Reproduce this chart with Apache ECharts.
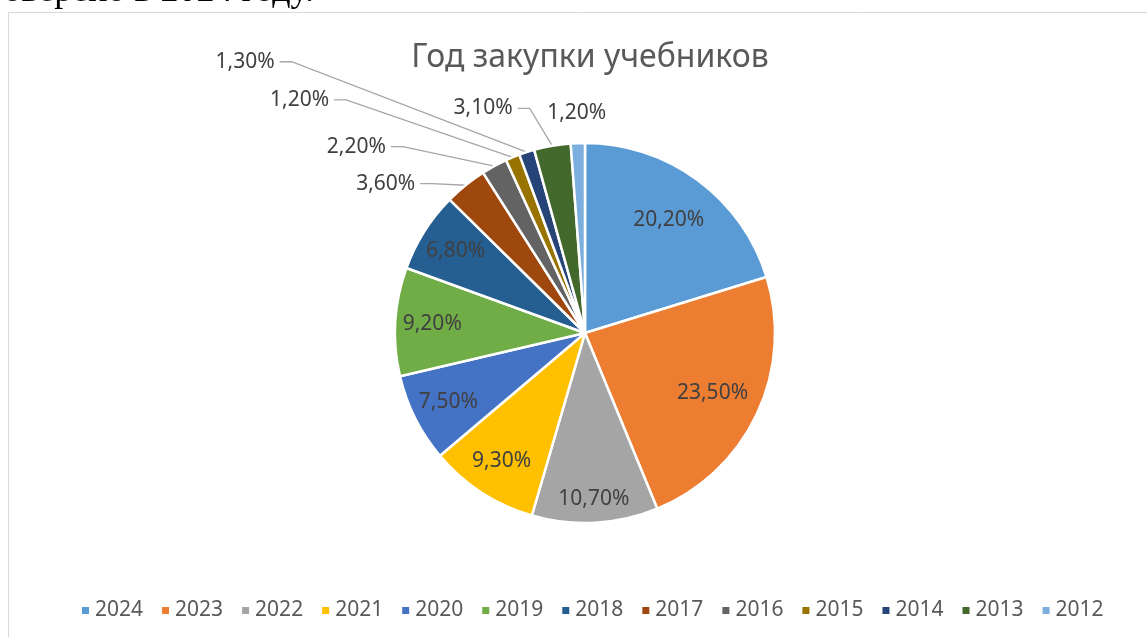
<!DOCTYPE html>
<html>
<head>
<meta charset="utf-8">
<script src="https://cdn.jsdelivr.net/npm/echarts@6/dist/echarts.min.js"></script>
<style>
  html, body { margin: 0; padding: 0; background: #fff; }
  #chart { width: 1147px; height: 637px; }
</style>
</head>
<body>
<div id="chart"></div>
<script>
// data (share of textbooks by purchase year, %)
const years = ['2024', '2023', '2022', '2021', '2020', '2019', '2018', '2017', '2016', '2015', '2014', '2013', '2012'];
const shares = [20.2, 23.5, 10.7, 9.3, 7.5, 9.2, 6.8, 3.6, 2.2, 1.2, 1.3, 3.1, 1.2];

// office palette
const colors = ['#5B9BD5', '#ED7D31', '#A5A5A5', '#FFC000', '#4472C4', '#70AD47', '#255E91',
  '#9E480E', '#636363', '#997300', '#264478', '#43682B', '#7CAFDD'];

// inside labels: ring radius -> which years sit on it
const labelRings = [
  [[86, 190], ['2024', '2023']],
  [[110, 190], ['2021', '2020', '2019', '2018']],
  [[136, 190], ['2022']],
  [[200, 234], ['2012']],
];
// [length, length2] of leader lines for small slices (places the label)
const leaderLines = {
  '2017': [2, 44],
  '2016': [22, 93],
  '2015': [62, 155],
  '2014': [95, 218],
  '2013': [38, 28],
};
const STUB = 12; // short horizontal piece next to the label

const FONT = '"Noto Sans", "Open Sans", sans-serif';
const CENTER = [585, 333];
const fmt = p => p.value.toFixed(2).replace('.', ',') + '%';

const labelStyle = { color: '#404040', fontSize: 21, fontFamily: FONT, formatter: fmt };

// invisible ring that only carries inside labels at a given radius
const labelRing = (radius, shown) => ({
  type: 'pie',
  radius: radius,
  center: CENTER,
  startAngle: 90,
  silent: true,
  legendHoverLink: false,
  emphasis: { disabled: true },
  itemStyle: { color: 'transparent', borderWidth: 0 },
  labelLine: { show: false },
  data: years.map((y, i) => ({
    name: y,
    value: shares[i],
    label: Object.assign({ show: shown.includes(y), position: 'inside' }, labelStyle),
  })),
});

const chart = echarts.init(document.getElementById('chart'));

chart.setOption({
  animation: false,
  color: colors,
  title: {
    text: 'Год закупки учебников',
    left: 585,
    top: 37,
    textAlign: 'center',
    textStyle: { color: '#595959', fontSize: 32, fontWeight: 'normal', fontFamily: FONT },
  },
  legend: {
    data: years,
    left: 75,
    top: 595,
    width: 1100,
    icon: 'rect',
    itemWidth: 9,
    itemHeight: 9,
    itemGap: 17,
    textStyle: { color: '#595959', fontSize: 21, fontFamily: FONT },
  },
  graphic: [
    {
      type: 'rect',
      shape: { x: 8.5, y: 12.5, width: 1200, height: 700 },
      style: { fill: 'none', stroke: '#D9D9D9', lineWidth: 1 },
      silent: true,
    },
    {
      type: 'text',
      x: 314,
      y: 10,
      style: {
        text: 'проверено в 2024 году.',
        font: '36px "Liberation Serif", "DejaVu Serif", serif',
        fill: '#000',
        align: 'right',
        verticalAlign: 'bottom',
      },
      silent: true,
    },
  ],
  series: [
    {
      type: 'pie',
      radius: 190,
      center: CENTER,
      startAngle: 90,
      avoidLabelOverlap: false,
      itemStyle: { borderColor: '#fff', borderWidth: 2.5 },
      label: { show: false },
      labelLine: { lineStyle: { color: '#A6A6A6', width: 1.3 } },
      // redraw leader lines Excel-like: slice edge -> short stub -> label
      labelLayout: p => {
        const pts = p.labelLinePoints;
        if (!pts || !leaderLines[years[p.dataIndex]]) return {};
        const r = p.labelRect;
        const endX = r.x + r.width + 5;
        const midY = r.y + r.height / 2;
        return { labelLinePoints: [pts[0], [endX + STUB, midY], [endX, midY]] };
      },
      data: years.map((y, i) => {
        const item = { name: y, value: shares[i] };
        const ll = leaderLines[y];
        if (ll) {
          item.label = Object.assign({ show: true, position: 'outside' }, labelStyle);
          item.labelLine = { show: true, length: ll[0], length2: ll[1] };
        }
        return item;
      }),
    },
  ].concat(labelRings.map(r => labelRing(r[0], r[1]))),
});
</script>
</body>
</html>
